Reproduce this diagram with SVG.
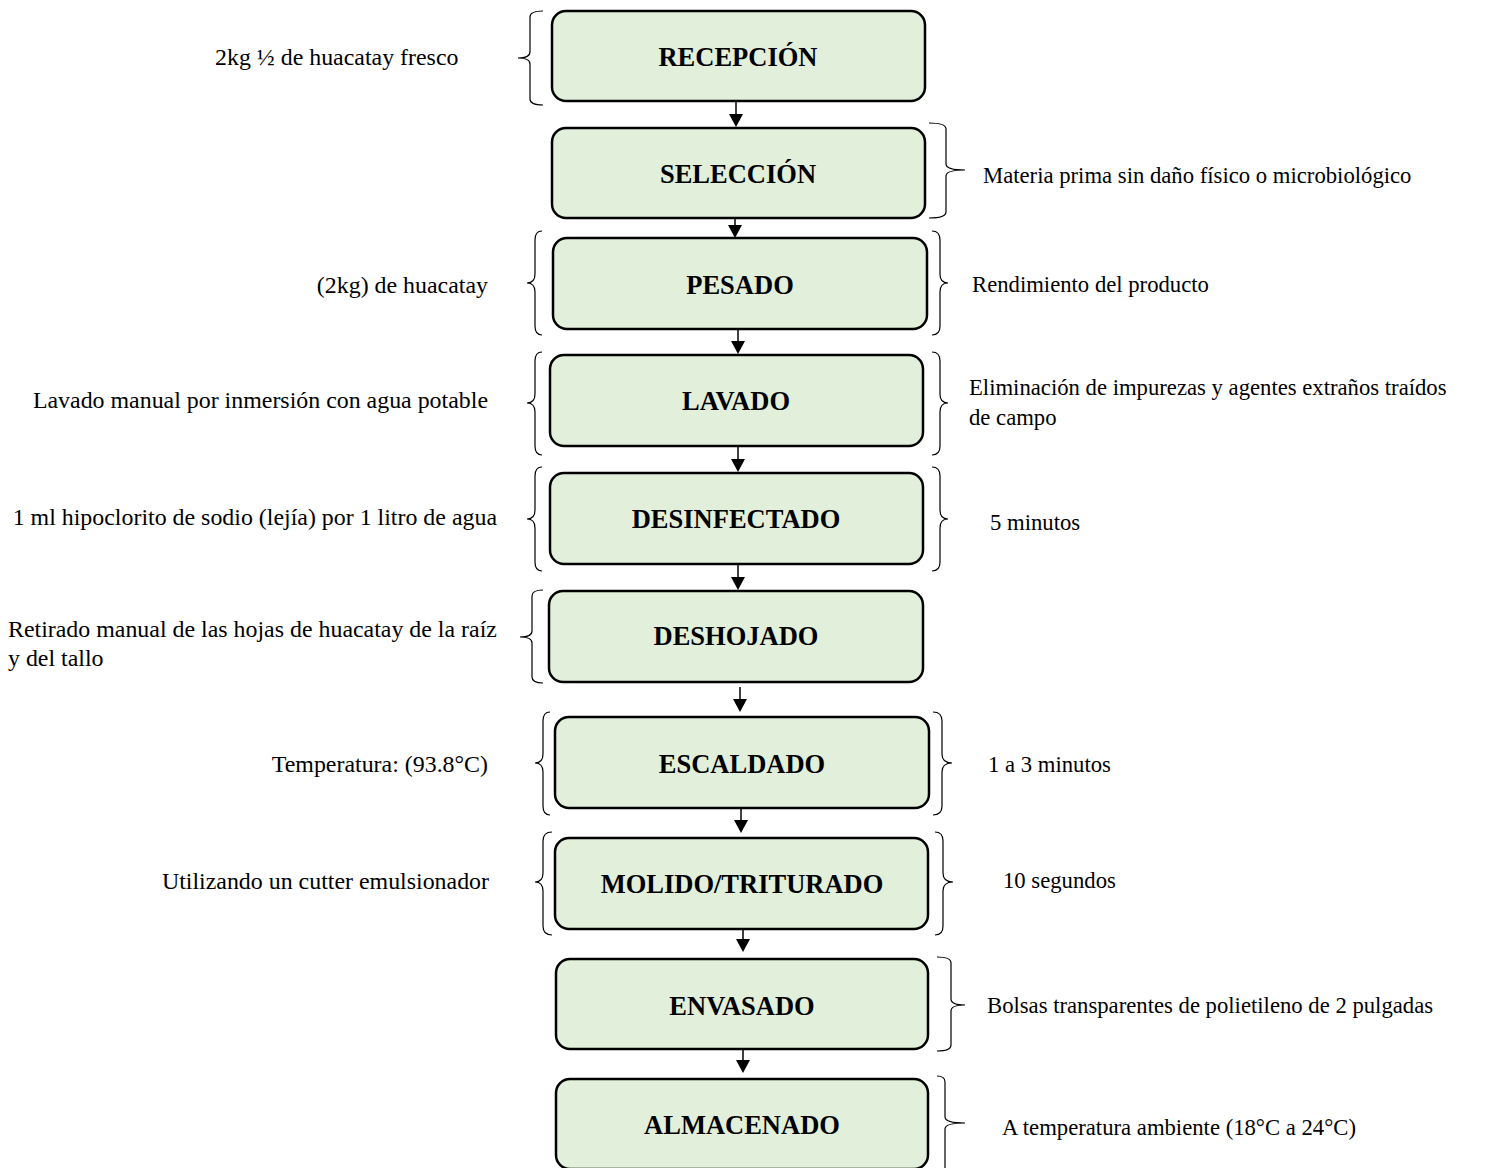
<svg xmlns="http://www.w3.org/2000/svg" width="1491" height="1168" viewBox="0 0 1491 1168">
<style>
.box{fill:#e2efda;stroke:#000;stroke-width:2.5}
.ttl{font-family:"Liberation Serif","Times New Roman",serif;font-weight:bold;font-size:26.5px;text-anchor:middle;fill:#000}
.ann{font-family:"Liberation Serif","Times New Roman",serif;font-size:22.7px;fill:#000}
.lft{font-size:23.9px}
.end{text-anchor:end}
.br{fill:none;stroke:#000;stroke-width:1.2}
.ln{stroke:#000;stroke-width:1.5;fill:none}
.hd{fill:#000}
</style>
<rect width="1491" height="1168" fill="#fff"/>
<g id="connectors">
<path class="ln" d="M736,101 V114"/>
<path class="hd" d="M729,114 L743,114 L736,127 Z"/>
<path class="ln" d="M735,218 V225"/>
<path class="hd" d="M728,225 L742,225 L735,238 Z"/>
<path class="ln" d="M738,329 V341"/>
<path class="hd" d="M731,341 L745,341 L738,354 Z"/>
<path class="ln" d="M738,446 V459"/>
<path class="hd" d="M731,459 L745,459 L738,472 Z"/>
<path class="ln" d="M738,564 V577"/>
<path class="hd" d="M731,577 L745,577 L738,590 Z"/>
<path class="ln" d="M740,687 V699"/>
<path class="hd" d="M733,699 L747,699 L740,712 Z"/>
<path class="ln" d="M741,808 V820"/>
<path class="hd" d="M734,820 L748,820 L741,833 Z"/>
<path class="ln" d="M743,929 V939"/>
<path class="hd" d="M736,939 L750,939 L743,952 Z"/>
<path class="ln" d="M743,1049 V1060"/>
<path class="hd" d="M736,1060 L750,1060 L743,1073 Z"/>
</g>
<g id="n1">
<rect class="box" x="552" y="11" width="373" height="90" rx="14"/>
<text class="ttl" x="738" y="66">RECEPCIÓN</text>
<path class="br" d="M543,11 Q530,11 530,17 L530,52 Q530,58 518,58 Q530,58 530,64 L530,99 Q530,105 543,105"/>
<text class="ann lft" x="215" y="65">2kg ½ de huacatay fresco</text>
</g>
<g id="n2">
<rect class="box" x="552" y="128" width="373" height="90" rx="14"/>
<text class="ttl" x="738" y="183">SELECCIÓN</text>
<path class="br" d="M929,123 Q946,123 946,129 L946,164 Q946,170 965,170 Q946,170 946,176 L946,212 Q946,218 929,218"/>
<text class="ann" x="983" y="183">Materia prima sin daño físico o microbiológico</text>
</g>
<g id="n3">
<rect class="box" x="553" y="238" width="374" height="91" rx="14"/>
<text class="ttl" x="740" y="294">PESADO</text>
<path class="br" d="M542,231 Q535,231 535,240 L535,274 Q535,283 527,283 Q535,283 535,292 L535,326 Q535,335 542,335"/>
<path class="br" d="M932,231 Q940,231 940,240 L940,274 Q940,283 948,283 Q940,283 940,292 L940,326 Q940,335 932,335"/>
<text class="ann lft end" x="488" y="293">(2kg) de huacatay</text>
<text class="ann" x="972" y="292">Rendimiento del producto</text>
</g>
<g id="n4">
<rect class="box" x="550" y="355" width="373" height="91" rx="14"/>
<text class="ttl" x="736" y="410">LAVADO</text>
<path class="br" d="M542,352 Q535,352 535,361 L535,394 Q535,403 527,403 Q535,403 535,412 L535,446 Q535,455 542,455"/>
<path class="br" d="M932,352 Q940,352 940,361 L940,394 Q940,403 948,403 Q940,403 940,412 L940,446 Q940,455 932,455"/>
<text class="ann lft end" x="488" y="408">Lavado manual por inmersión con agua potable</text>
<text class="ann" x="969" y="395">Eliminación de impurezas y agentes extraños traídos</text>
<text class="ann" x="969" y="425">de campo</text>
</g>
<g id="n5">
<rect class="box" x="550" y="473" width="373" height="91" rx="14"/>
<text class="ttl" x="736" y="528">DESINFECTADO</text>
<path class="br" d="M542,467 Q535,467 535,476 L535,510 Q535,519 527,519 Q535,519 535,528 L535,562 Q535,571 542,571"/>
<path class="br" d="M932,467 Q940,467 940,476 L940,510 Q940,519 948,519 Q940,519 940,528 L940,562 Q940,571 932,571"/>
<text class="ann lft end" x="497" y="525">1 ml hipoclorito de sodio (lejía) por 1 litro de agua</text>
<text class="ann" x="990" y="530">5 minutos</text>
</g>
<g id="n6">
<rect class="box" x="549" y="591" width="374" height="91" rx="14"/>
<text class="ttl" x="736" y="645">DESHOJADO</text>
<path class="br" d="M543,590 Q532,590 532,596 L532,631 Q532,637 520,637 Q532,637 532,643 L532,677 Q532,683 543,683"/>
<text class="ann lft" x="8" y="637">Retirado manual de las hojas de huacatay de la raíz</text>
<text class="ann lft" x="8" y="666">y del tallo</text>
</g>
<g id="n7">
<rect class="box" x="555" y="717" width="374" height="91" rx="14"/>
<text class="ttl" x="742" y="773">ESCALDADO</text>
<path class="br" d="M550,712 Q543,712 543,721 L543,754 Q543,763 535,763 Q543,763 543,772 L543,806 Q543,815 550,815"/>
<path class="br" d="M933,712 Q942,712 942,721 L942,754 Q942,763 952,763 Q942,763 942,772 L942,806 Q942,815 933,815"/>
<text class="ann lft end" x="488" y="772">Temperatura: (93.8°C)</text>
<text class="ann" x="988" y="772">1 a 3 minutos</text>
</g>
<g id="n8">
<rect class="box" x="555" y="838" width="373" height="91" rx="14"/>
<text class="ttl" x="742" y="893">MOLIDO/TRITURADO</text>
<path class="br" d="M552,832 Q543,832 543,841 L543,873 Q543,882 535,882 Q543,882 543,891 L543,926 Q543,935 552,935"/>
<path class="br" d="M935,832 Q943,832 943,841 L943,873 Q943,882 953,882 Q943,882 943,891 L943,926 Q943,935 935,935"/>
<text class="ann lft end" x="489" y="889">Utilizando un cutter emulsionador</text>
<text class="ann" x="1003" y="888">10 segundos</text>
</g>
<g id="n9">
<rect class="box" x="556" y="959" width="372" height="90" rx="14"/>
<text class="ttl" x="742" y="1015">ENVASADO</text>
<path class="br" d="M937,957 Q951,957 951,963 L951,999 Q951,1005 965,1005 Q951,1005 951,1011 L951,1045 Q951,1051 937,1051"/>
<text class="ann" x="987" y="1013">Bolsas transparentes de polietileno de 2 pulgadas</text>
</g>
<g id="n10">
<rect class="box" x="556" y="1079" width="372" height="90" rx="14"/>
<text class="ttl" x="742" y="1134">ALMACENADO</text>
<path class="br" d="M937,1076 Q945,1076 945,1082 L945,1117 Q945,1123 965,1123 Q945,1123 945,1129 L945,1168"/>
<text class="ann" x="1002" y="1135">A temperatura ambiente (18°C a 24°C)</text>
</g>
</svg>
